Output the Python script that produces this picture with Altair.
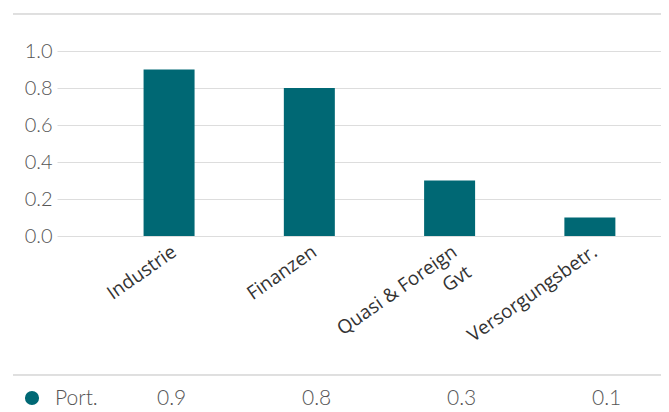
import altair as alt
import pandas as pd

categories = ["Industrie", "Finanzen", "Quasi & Foreign Gvt", "Versorgungsbetr."]
values = [0.9, 0.8, 0.3, 0.1]
series_name = "Port."
y_ticks = [0.0, 0.2, 0.4, 0.6, 0.8, 1.0]

df = pd.DataFrame({"cat": categories, "val": values,
                   "lbl": [f"{v:.1f}" for v in values]})

W, H = 604, 222
xs = alt.Scale(domain=categories, range=[0, W], paddingInner=0,
               paddingOuter=0.153, align=0.977)
ys = alt.Scale(domain=[0, 1.2], nice=False)
teal = "#006874"
grey_line = "#dddddd"

x_enc = alt.X("cat:N", scale=xs, sort=categories, title=None,
              axis=alt.Axis(labelAngle=325, domain=False, ticks=False,
                            labelFont="Open Sans", labelFontSize=19,
                            labelLineHeight=25,
                            labelColor="#333333", labelPadding=6,
                            labelExpr="datum.label == 'Quasi & Foreign Gvt' ? ['Quasi & Foreign', 'Gvt'] : datum.label"))

bars = alt.Chart(df).mark_bar(color=teal, size=51).encode(
    x=x_enc,
    y=alt.Y("val:Q", scale=ys, title=None,
            axis=alt.Axis(values=y_ticks, format=".1f", domain=False, ticks=False,
                          labelFont="Lato", labelFontSize=20, labelFontWeight=300,
                          labelColor="#555555", labelPadding=5,
                          gridColor=grey_line, gridWidth=1)),
)

top_line = alt.Chart(df).mark_rule(color=grey_line, strokeWidth=1).encode(
    x=alt.value(-44), x2=alt.value(W + 8), y=alt.value(0))
sep_line = alt.Chart(df).mark_rule(color=grey_line, strokeWidth=1).encode(
    x=alt.value(-44), x2=alt.value(W + 8), y=alt.value(361))

ts = alt.Scale(type="point", domain=categories, range=[100, 535], padding=0)
vals = alt.Chart(df).mark_text(font="Lato", fontSize=21, fontWeight=300,
                               color="#555555", baseline="middle", align="left").encode(
    x=alt.X("cat:N", scale=ts, sort=categories, axis=None), y=alt.value(385), text="lbl:N")

leg = pd.DataFrame({"name": [series_name]})
dot = alt.Chart(leg).mark_circle(color=teal, size=200, opacity=1).encode(
    x=alt.value(-25), y=alt.value(384))
name = alt.Chart(leg).mark_text(font="Lato", fontSize=21, fontWeight=300,
                                color="#555555", align="left", baseline="middle").encode(
    x=alt.value(-2), y=alt.value(385), text="name:N")

chart = alt.layer(top_line, sep_line, bars, vals, dot, name).resolve_scale(
    x="independent").properties(
    width=W, height=H,
    autosize=alt.AutoSizeParams(type="none"),
    padding={"left": 49, "top": 6, "right": 0, "bottom": 172},
).configure_view(stroke=None)

chart.save("out.html", embed_options={"renderer": "svg", "actions": False})
